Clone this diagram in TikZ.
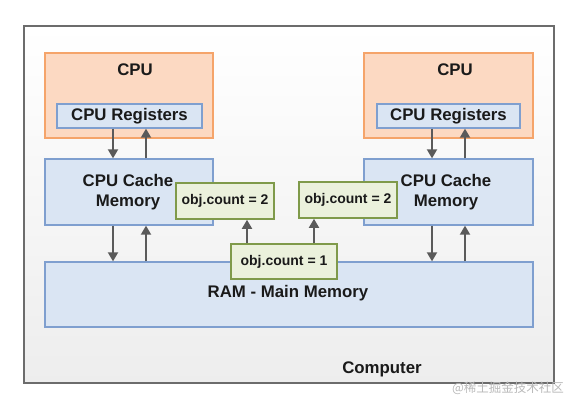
\documentclass[tikz,border=0pt]{standalone}
\usepackage{fontspec}
\setmainfont{Liberation Sans}
\newfontfamily\cjk{Noto Sans CJK SC}
\usetikzlibrary{arrows.meta,shadings}
\definecolor{txt}{HTML}{1A1A1A}
\definecolor{orfill}{HTML}{FCD9C2}
\definecolor{ordraw}{HTML}{F5A46A}
\definecolor{blfill}{HTML}{DAE5F3}
\definecolor{bldraw}{HTML}{7F9FCF}
\definecolor{grfill}{HTML}{EBF1DC}
\definecolor{grdraw}{HTML}{7F9A4A}
\definecolor{arrc}{HTML}{5A5A5A}
\tikzset{
  box/.style={rectangle, inner sep=0pt, line width=1.3pt},
  cpubox/.style={box, fill=orfill, draw=ordraw},
  bluebox/.style={box, fill=blfill, draw=bldraw, text=txt, font=\bfseries\fontsize{16.8}{20}\selectfont, align=center},
  objbox/.style={box, fill=grfill, draw=grdraw, line width=1.6pt, text=txt, font=\bfseries\fontsize{14}{16}\selectfont},
  lbl/.style={text=txt, font=\bfseries\fontsize{16.8}{20}\selectfont, inner sep=0pt},
  arr/.style={draw=arrc, line width=1.8pt, -{Triangle[length=9pt,width=10pt]}}
}
\begin{document}
\begin{tikzpicture}[x=1pt,y=-1pt]
\useasboundingbox (0,0) rectangle (574,407);
% outer computer box
\node[box, draw=gray!85!black, line width=1.5pt, top color=white, bottom color=gray!14, minimum width=530pt, minimum height=357pt] (comp) at (289,204.5) {};
\node[lbl] (complbl) at (382,369) {Computer};
% left CPU
\node[cpubox, minimum width=168pt, minimum height=85pt] (cpuL) at (129,95.5) {};
\node[lbl] (cpuLlbl) at (135,70) {CPU};
\node[bluebox, minimum width=145pt, minimum height=24pt] (regL) at (129.5,116) {CPU Registers};
\node[bluebox, minimum width=168pt, minimum height=66pt] (cacheL) at (129,192) {};
\node[lbl, align=center] (cacheLlbl) at (128,192) {CPU Cache\\Memory};
% right CPU
\node[cpubox, minimum width=169pt, minimum height=85pt] (cpuR) at (448.5,95.5) {};
\node[lbl] (cpuRlbl) at (455,70) {CPU};
\node[bluebox, minimum width=143pt, minimum height=24pt] (regR) at (448.5,116) {CPU Registers};
\node[bluebox, minimum width=169pt, minimum height=66pt] (cacheR) at (448.5,192) {};
\node[lbl, align=center] (cacheRlbl) at (446,192) {CPU Cache\\Memory};
% RAM
\node[bluebox, minimum width=488pt, minimum height=65pt] (ram) at (289,294.5) {};
\node[lbl] (ramlbl) at (288,293) {RAM - Main Memory};
% arrows left
\draw[arr] ([xshift=-16.5pt]regL.south) -- ([xshift=-16pt]cacheL.north);
\draw[arr] ([xshift=17pt]cacheL.north) -- ([xshift=16.5pt]regL.south);
\draw[arr] ([xshift=-16pt]cacheL.south) -- ([xshift=-16pt]cacheL.south |- ram.north);
\draw[arr] ([xshift=17pt]cacheL.south |- ram.north) -- ([xshift=17pt]cacheL.south);
% arrows right
\draw[arr] ([xshift=-16.5pt]regR.south) -- ([xshift=-16.5pt]cacheR.north);
\draw[arr] ([xshift=16.5pt]cacheR.north) -- ([xshift=16.5pt]regR.south);
\draw[arr] ([xshift=-16.5pt]cacheR.south) -- ([xshift=-16.5pt]cacheR.south |- ram.north);
\draw[arr] ([xshift=16.5pt]cacheR.south |- ram.north) -- ([xshift=16.5pt]cacheR.south);
% obj boxes
\node[objbox, minimum width=98pt, minimum height=36pt] (objL) at (225,201) {obj.count = 2};
\node[objbox, minimum width=98pt, minimum height=36pt] (objR) at (348,200) {obj.count = 2};
\node[objbox, minimum width=106pt, minimum height=35pt] (obj1) at (284,261.5) {obj.count = 1};
\draw[arr] (obj1.north -| 247,0) -- (objL.south -| 247,0);
\draw[arr] (obj1.north -| 314,0) -- (objR.south -| 314,0);
% watermark
\node[text=gray!55, font=\cjk\fontsize{12.5}{14}\selectfont, inner sep=0pt] (wm) at (508,388) {@稀土掘金技术社区};
\end{tikzpicture}
\end{document}
